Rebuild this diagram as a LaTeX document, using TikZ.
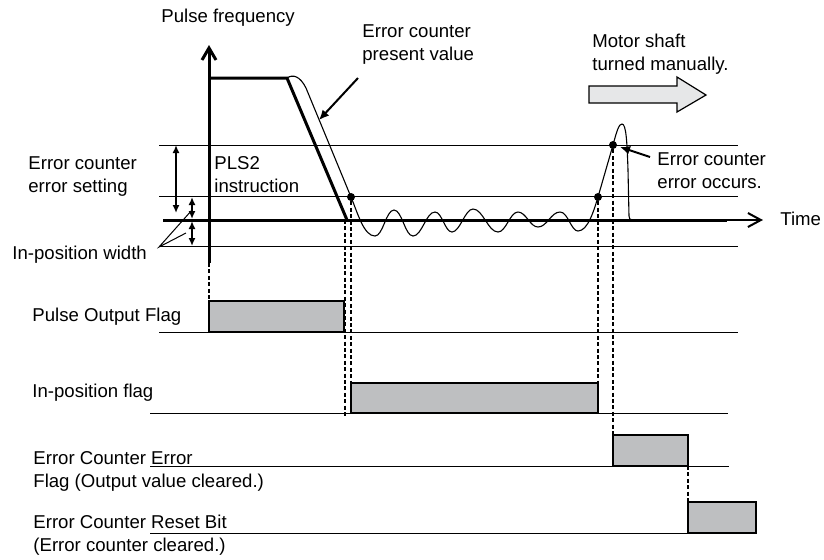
\documentclass[tikz,border=0pt]{standalone}
\usepackage{fontspec}
\setmainfont{Liberation Sans}
\usetikzlibrary{positioning,arrows.meta}

\definecolor{flaggray}{HTML}{BEBFC1}
\definecolor{shaftgray}{HTML}{E6E7E8}

\begin{document}
\begin{tikzpicture}[
  x=0.5pt, y=-0.5pt,
  font=\fontsize{9.3}{11.5}\selectfont,
  lbl/.style={anchor=west, inner sep=0pt, align=left},
  level/.style={line width=0.5pt},
  axis/.style={line width=1.5pt},
  wave/.style={line width=0.55pt},
  guide/.style={line width=1pt, dash pattern=on 2pt off 1.2pt},
  pulse/.style={draw, line width=0.6pt, fill=flaggray},
  dot/.style={circle, fill, inner sep=0pt, minimum size=4pt},
  pointer/.style={-{Latex[length=5pt,width=4.5pt]}, line width=1pt},
  span/.style={{Latex[length=4pt,width=3.5pt]}-{Latex[length=4pt,width=3.5pt]}, line width=1pt}
]
  \useasboundingbox (0,0) rectangle (824,559);

  % Nodes
  \node[lbl] (freq) at (161,18) {Pulse frequency};
  \node[lbl] (presval) at (362,45) {Error counter\\present value};
  \node[lbl] (motor) at (592,54) {Motor shaft\\turned manually.};
  \node[lbl] (occurs) at (657,171) {Error counter\\error occurs.};
  \node[lbl] (setting) at (28,177) {Error counter\\error setting};
  \node[lbl] (inwidth) at (12,255) {In-position width};
  \node[lbl] (pls) at (214,175) {PLS2\\instruction};
  \node[lbl] (time) at (780,219) {Time};
  \node[lbl] (pflag) at (32,317) {Pulse Output Flag};
  \node[lbl] (iflag) at (32,393) {In-position flag};
  \node[lbl] (eflag) at (33,471) {Error Counter Error\\Flag (Output value cleared.)};
  \node[lbl] (rflag) at (33,535) {Error Counter Reset Bit\\(Error counter cleared.)};

  \node[dot] (d1) at (351,197) {};
  \node[dot] (d2) at (598,197) {};
  \node[dot] (d3) at (613,145) {};

  % Coordinates
  \coordinate (axlow) at (209,263);
  \coordinate (axtop) at (209,45);
  \coordinate (t0) at (163,220);
  \coordinate (t1) at (727,220);
  \coordinate (t2) at (763,220);
  \coordinate (iw) at (159,247);

  % Levels
  \draw[level] (159,145) -- (738,145);
  \draw[level] (159,196) -- (738,196);
  \draw[level] (159,246) -- (738,246);
  \draw[level] (159,332) -- (738,332);
  \draw[level] (150,413) -- (728,413);
  \draw[level] (150,466) -- (729,466);
  \draw[level] (150,533) -- (729,533);

  % Flags
  \draw[pulse] (209,301) rectangle (344,332);
  \draw[pulse] (351,383) rectangle (598,413);
  \draw[pulse] (613,435) rectangle (688,466);
  \draw[pulse] (688,502) rectangle (756,533);

  % Big arrow
  \draw[line width=0.6pt, fill=shaftgray] (589,86) -- (677,86) -- (677,77) -- (706,95)
    -- (677,112) -- (677,103) -- (589,103) -- cycle;

  % Axes
  \draw[line width=1.5pt, -{Straight Barb[length=6pt,width=7pt]}] (axlow) -- (axtop);
  \draw[line width=1pt, -{Straight Barb[length=6.5pt,width=7pt]}] (t0) -- (t2);
  \draw[axis] (t0) -- (t1);
  \draw[axis, line join=miter] (209,78) -- (287,78) -- (347,220);

  % Error counter
  \draw[wave] (287,78) .. controls (293,74) and (300,76) .. (306,88) -- (d1.center)
    .. controls (358,214) and (364,236) .. (375,236)
    .. controls (383,236) and (386,210) .. (394,210)
    .. controls (402,210) and (405,236) .. (413,236)
    .. controls (422,236) and (426,212) .. (435,212)
    .. controls (442,212) and (445,232) .. (452,232)
    .. controls (460,232) and (465,209) .. (473,209)
    .. controls (483,209) and (488,232) .. (498,232)
    .. controls (506,232) and (510,212) .. (518,212)
    .. controls (526,212) and (530,227) .. (538,227)
    .. controls (547,227) and (551,212) .. (560,212)
    .. controls (568,212) and (571,231) .. (578,231)
    .. controls (588,231) and (594,210) .. (d2.center) -- (d3.center)
    .. controls (617,130) and (619,124) .. (622,124)
    .. controls (626,124) and (627,140) .. (628,170) -- (629,216)
    .. controls (629,219) and (630,220) .. (633,220);

  % Guides
  \draw[guide] (axlow) -- (209,332);
  \draw[guide] (345,220) -- (345,417);
  \draw[guide] (d1) -- (351,413);
  \draw[guide] (d2) -- (598,413);
  \draw[guide] (d3) -- (613,466);
  \draw[guide] (688,466) -- (688,502);

  % Arrows
  \draw[pointer] (358,78) -- (319,120);
  \draw[pointer] (650,157) -- (620,147);
  \draw[span] (176,145) -- (176,213);
  \draw[span] (192,197) -- (192,219);
  \draw[span] (192,221) -- (192,246);
  \draw[line width=0.5pt] (192,210) -- (iw) -- (186,233);
\end{tikzpicture}
\end{document}
